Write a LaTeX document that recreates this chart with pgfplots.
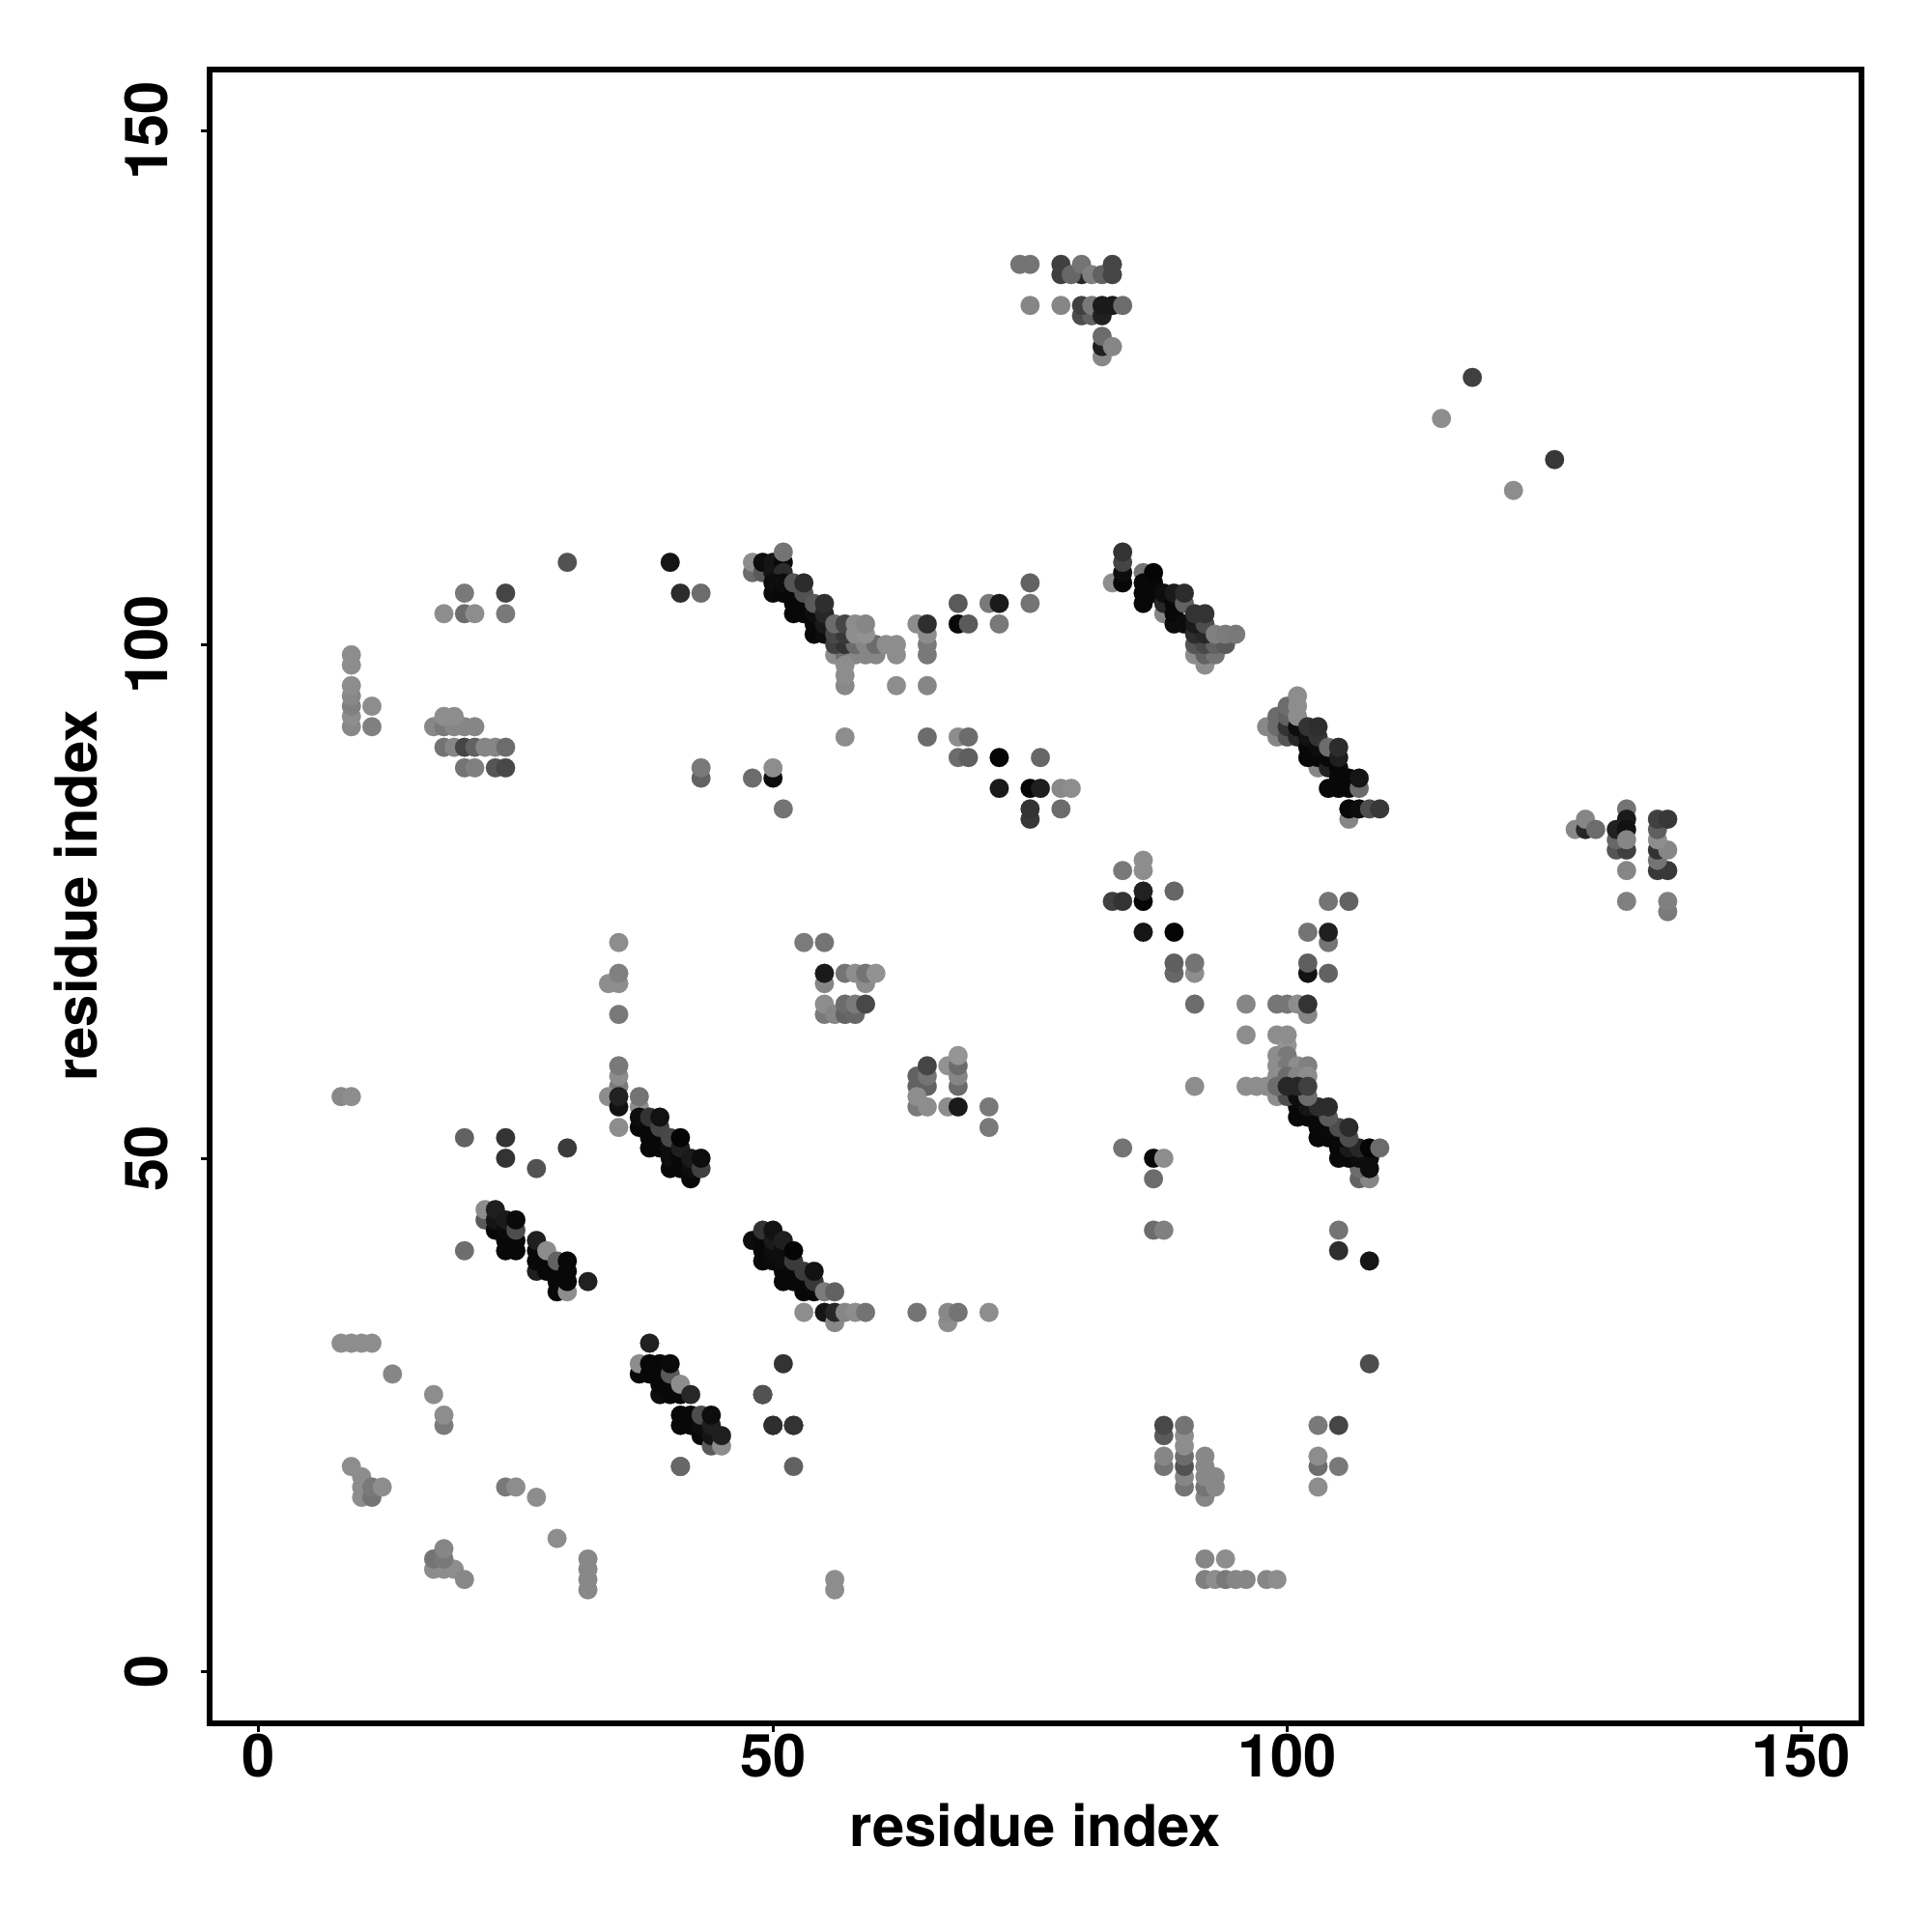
\documentclass[border=0pt]{standalone}
\usepackage{fontspec}
\setmainfont{TeX Gyre Heros}
\usepackage{pgfplots}
\pgfplotsset{compat=1.18}
\usepackage{pgfplotstable}
\pgfplotstableread[row sep=\\]{
x y g\\
8 32 .55\\ 9 32 .55\\ 10 32 .55\\ 11 32 .55\\ 13 29 .52\\ 17 27 .55\\ 18 24 .48\\ 18 25 .55\\
9 20 .55\\ 10 19 .55\\ 10 18 .55\\ 10 17 .55\\ 11 17 .45\\ 11 18 .47\\ 12 18 .55\\
24 18 .47\\ 25 18 .55\\ 27 17 .55\\ 29 13 .55\\ 32 8 .53\\ 32 9 .53\\ 32 10 .53\\ 32 11 .53\\
17 10 .55\\ 18 10 .55\\ 19 10 .55\\ 20 9 .53\\ 17 11 .45\\ 18 11 .47\\ 18 12 .52\\
20 41 .43\\ 41 20 .4\\ 27 49 .32\\ 24 50 .2\\ 24 52 .2\\ 20 52 .38\\ 30 51 .23\\
22 44 .35\\ 22 45 .55\\ 23 43 .03\\ 23 44 .08\\ 23 45 .12\\ 24 41 .03\\ 24 42 .03\\ 24 43 .04\\ 24 44 .1\\ 25 41 .03\\ 25 42 .03\\ 25 43 .3\\ 25 44 .04\\
27 39 .12\\ 27 40 .03\\ 27 41 .03\\ 27 42 .12\\ 28 39 .03\\ 28 40 .03\\ 28 41 .55\\ 29 37 .03\\ 29 38 .03\\ 29 39 .03\\ 29 40 .38\\ 30 37 .55\\ 30 38 .03\\ 30 39 .03\\ 30 40 .03\\ 32 38 .13\\
37 29 .03\\ 37 30 .55\\ 38 32 .13\\ 38 29 .03\\ 38 30 .03\\ 39 27 .05\\ 39 28 .03\\ 39 29 .03\\ 39 30 .03\\ 40 27 .03\\ 40 28 .03\\ 40 29 .35\\ 40 30 .04\\ 41 27 .03\\ 41 28 .55\\ 42 27 .15\\ 49 27 .3\\
41 24 .03\\ 41 25 .03\\ 42 24 .03\\ 42 25 .03\\ 43 23 .03\\ 43 24 .05\\ 43 25 .3\\ 44 22 .35\\ 44 23 .08\\ 44 24 .12\\ 44 25 .05\\ 45 22 .55\\ 45 23 .12\\ 50 24 .2\\ 52 24 .2\\ 41 20 .4\\
48 42 .05\\ 49 40 .03\\ 49 41 .03\\ 49 42 .03\\ 49 43 .2\\ 50 40 .04\\ 50 41 .05\\ 50 42 .1\\ 50 43 .07\\ 51 38 .03\\ 51 39 .03\\ 51 40 .05\\ 51 41 .05\\ 51 42 .12\\ 52 38 .03\\ 52 39 .03\\ 52 40 .23\\ 52 41 .02\\ 53 37 .03\\ 53 38 .03\\ 53 39 .23\\ 54 37 .03\\ 54 38 .22\\ 54 39 .07\\ 55 37 .48\\ 56 37 .38\\
53 35 .55\\ 55 35 .08\\ 56 34 .53\\ 56 35 .15\\ 57 35 .52\\ 58 35 .55\\ 59 35 .45\\ 64 35 .45\\ 67 34 .55\\ 67 35 .53\\ 68 35 .45\\ 71 35 .55\\
51 30 .2\\ 49 27 .32\\ 50 24 .18\\ 52 24 .2\\ 52 20 .38\\ 56 8 .55\\ 56 9 .55\\
87 48 .42\\ 87 50 .03\\ 88 50 .55\\ 87 43 .42\\ 88 43 .5\\
88 23 .35\\ 88 24 .28\\ 88 20 .45\\ 88 21 .52\\ 90 18 .45\\ 90 19 .52\\ 90 20 .32\\ 90 21 .42\\ 90 22 .55\\ 90 23 .55\\ 90 24 .45\\
92 17 .52\\ 92 18 .45\\ 92 19 .53\\ 92 20 .53\\ 92 21 .53\\ 93 18 .53\\ 93 19 .53\\
103 18 .55\\ 103 20 .43\\ 103 21 .55\\ 103 24 .47\\ 105 24 .27\\ 105 20 .47\\
92 11 .52\\ 94 11 .55\\ 92 9 .5\\ 93 9 .55\\ 94 9 .47\\ 95 9 .52\\ 96 9 .52\\ 98 9 .52\\ 99 9 .55\\
84 51 .45\\ 105 43 .45\\ 105 41 .18\\ 108 40 .08\\ 108 30 .3\\
107 48 .38\\ 108 48 .52\\ 107 49 .42\\ 105 50 .03\\ 106 50 .03\\ 107 50 .05\\ 108 49 .05\\ 108 50 .05\\ 105 51 .03\\ 106 51 .1\\ 107 51 .15\\ 108 51 .02\\ 109 51 .42\\
103 52 .03\\ 104 52 .03\\ 105 52 .03\\ 106 52 .3\\ 103 53 .03\\ 104 53 .04\\ 105 53 .3\\ 106 53 .17\\ 103 54 .03\\ 104 54 .35\\ 101 54 .03\\ 102 54 .03\\ 101 55 .03\\ 102 55 .08\\ 103 55 .17\\ 104 55 .17\\
84 78 .47\\ 86 78 .55\\ 86 79 .55\\ 86 75 .02\\ 86 76 .13\\ 89 76 .4\\ 83 75 .25\\ 84 75 .2\\ 86 72 .08\\ 89 72 .02\\
89 68 .4\\ 89 69 .37\\ 91 68 .55\\ 91 69 .45\\ 91 65 .42\\
96 65 .52\\ 99 65 .46\\ 100 65 .46\\ 101 65 .55\\ 102 64 .52\\ 102 65 .2\\
102 72 .45\\ 104 71 .45\\ 104 72 .12\\ 102 68 .07\\ 102 69 .37\\ 104 68 .38\\ 104 75 .45\\ 106 75 .38\\ 106 84 .55\\
96 62 .55\\ 99 62 .55\\ 100 61 .58\\ 100 62 .55\\ 99 60 .55\\ 100 60 .47\\ 99 59 .55\\ 100 59 .47\\ 101 59 .55\\ 102 59 .5\\ 99 58 .55\\ 100 58 .42\\ 101 58 .52\\ 102 58 .55\\ 99 56 .55\\ 100 56 .3\\ 101 56 .05\\ 102 56 .42\\ 91 57 .55\\ 96 57 .55\\ 97 57 .55\\ 98 57 .55\\ 99 57 .42\\ 100 57 .15\\ 101 57 .15\\ 102 57 .25\\
35 71 .55\\ 35 67 .55\\ 34 67 .55\\ 35 68 .5\\ 35 64 .47\\ 35 57 .48\\ 35 58 .55\\ 35 59 .47\\ 34 56 .55\\ 35 55 .07\\ 35 56 .13\\ 35 53 .55\\ 8 56 .53\\ 9 56 .55\\
37 55 .55\\ 37 56 .45\\ 37 53 .03\\ 37 54 .05\\ 38 51 .03\\ 38 52 .03\\ 38 53 .03\\ 38 54 .2\\ 39 51 .03\\ 39 52 .03\\ 39 53 .27\\ 39 54 .07\\ 40 49 .03\\ 40 50 .05\\ 40 51 .05\\ 40 52 .28\\ 41 49 .03\\ 41 50 .03\\ 41 51 .12\\ 41 52 .02\\ 42 48 .03\\ 42 49 .05\\ 42 50 .1\\ 43 49 .25\\ 43 50 .05\\
53 71 .48\\ 55 71 .45\\ 55 67 .52\\ 55 68 .1\\ 57 68 .45\\ 59 67 .55\\ 58 68 .55\\ 59 68 .45\\ 60 68 .57\\
55 64 .47\\ 55 65 .55\\ 56 64 .52\\ 57 64 .38\\ 57 65 .42\\ 58 64 .4\\ 58 65 .48\\ 59 65 .28\\
64 57 .38\\ 64 58 .38\\ 65 57 .38\\ 65 58 .45\\ 65 59 .27\\ 64 55 .47\\ 64 56 .55\\ 65 55 .55\\
67 59 .57\\ 68 57 .42\\ 68 58 .52\\ 68 59 .42\\ 68 60 .58\\ 67 55 .55\\ 68 55 .1\\ 71 55 .47\\ 71 53 .47\\
9 92 .53\\ 9 93 .55\\ 9 94 .5\\ 9 95 .53\\ 9 96 .55\\ 9 98 .55\\ 9 99 .55\\ 11 94 .55\\ 11 92 .5\\
17 92 .53\\ 18 92 .47\\ 19 92 .52\\ 20 92 .52\\ 21 92 .52\\ 18 93 .55\\ 19 93 .55\\
18 90 .45\\ 19 90 .52\\ 20 90 .27\\ 21 90 .38\\ 22 90 .52\\ 23 90 .52\\ 24 90 .42\\
20 88 .45\\ 21 88 .5\\ 23 88 .33\\ 24 88 .28\\
18 103 .55\\ 20 103 .42\\ 21 103 .55\\ 24 103 .47\\ 20 105 .47\\ 24 105 .27\\ 30 108 .32\\ 40 108 .08\\ 41 105 .17\\ 43 105 .42\\
43 87 .38\\ 43 88 .47\\ 48 87 .42\\ 50 87 .05\\ 50 88 .55\\ 51 84 .45\\
48 107 .42\\ 48 108 .55\\ 49 107 .35\\ 49 108 .05\\ 50 107 .08\\ 50 108 .08\\ 51 108 .04\\ 51 107 .17\\ 51 109 .45\\
50 105 .04\\ 50 106 .05\\ 51 105 .03\\ 51 106 .05\\ 52 103 .03\\ 52 104 .03\\ 52 105 .03\\ 52 106 .33\\ 53 103 .03\\ 53 104 .03\\ 53 105 .32\\ 53 106 .17\\
54 101 .03\\ 54 102 .03\\ 54 103 .05\\ 54 104 .35\\ 55 101 .05\\ 55 102 .1\\ 55 103 .15\\ 55 104 .18\\
56 99 .55\\ 57 99 .42\\ 58 99 .52\\ 59 99 .52\\ 60 99 .52\\ 62 99 .55\\ 56 100 .25\\ 57 100 .2\\ 58 100 .42\\ 59 100 .52\\ 60 100 .42\\ 61 100 .55\\ 62 100 .55\\
56 101 .28\\ 57 101 .22\\ 56 102 .42\\ 57 102 .27\\ 58 101 .55\\ 59 101 .57\\ 58 102 .55\\ 59 102 .52\\
57 96 .53\\ 57 97 .55\\ 57 98 .55\\ 62 96 .55\\ 65 96 .52\\ 64 102 .55\\ 65 99 .47\\ 65 100 .47\\ 65 101 .55\\ 65 102 .18\\
68 102 .03\\ 69 102 .35\\ 68 104 .35\\ 71 104 .47\\ 72 104 .1\\ 72 102 .47\\ 75 104 .45\\ 75 106 .38\\
57 91 .55\\ 65 91 .42\\ 68 91 .55\\ 69 91 .42\\ 68 89 .42\\ 69 89 .37\\ 72 89 .02\\ 76 89 .4\\
72 86 .1\\ 75 86 .02\\ 76 86 .12\\ 78 86 .53\\ 79 86 .55\\ 75 83 .22\\ 75 84 .2\\ 78 84 .42\\
83 106 .55\\ 84 106 .03\\ 84 107 .05\\ 84 108 .27\\ 84 109 .2\\
86 107 .45\\ 86 104 .03\\ 86 105 .03\\ 86 106 .03\\ 87 105 .03\\ 87 106 .03\\ 87 107 .02\\ 88 103 .52\\ 88 104 .15\\ 88 105 .05\\ 89 102 .05\\ 89 103 .03\\ 89 104 .03\\ 89 105 .1\\ 90 102 .05\\ 90 104 .38\\ 90 105 .17\\
92 98 .55\\ 91 99 .55\\ 92 99 .38\\ 93 99 .45\\ 91 100 .33\\ 92 100 .28\\ 93 100 .38\\ 94 100 .35\\ 91 101 .18\\ 92 101 .15\\ 91 102 .1\\ 92 102 .3\\ 91 103 .2\\ 92 103 .2\\ 93 101 .5\\ 94 101 .48\\ 95 101 .47\\
98 92 .53\\ 99 91 .52\\ 99 92 .42\\ 99 93 .42\\ 100 91 .33\\ 100 92 .2\\ 100 93 .38\\ 100 94 .42\\ 101 91 .15\\ 101 92 .05\\ 101 93 .55\\ 101 94 .55\\ 101 95 .55\\
103 88 .52\\ 102 89 .03\\ 102 90 .03\\ 102 91 .07\\ 102 92 .2\\ 103 89 .03\\ 103 90 .05\\ 103 91 .2\\ 103 92 .18\\ 104 88 .13\\ 104 89 .03\\ 104 90 .42\\ 105 87 .03\\ 105 88 .03\\ 105 89 .12\\ 105 90 .17\\
104 86 .03\\ 105 86 .03\\ 106 86 .03\\ 106 87 .03\\ 107 86 .42\\ 107 87 .08\\ 106 83 .52\\ 106 84 .03\\ 107 84 .05\\ 108 84 .3\\ 109 84 .22\\
128 82 .53\\ 129 82 .15\\ 129 83 .52\\ 130 82 .42\\
133 75 .5\\ 133 78 .52\\ 132 80 .33\\ 133 80 .25\\ 132 81 .4\\ 133 84 .45\\ 133 83 .1\\ 132 82 .13\\ 133 82 .07\\ 133 81 .52\\
137 74 .48\\ 137 75 .5\\ 136 78 .22\\ 137 78 .22\\ 136 79 .45\\ 136 80 .2\\ 137 80 .52\\ 136 81 .55\\ 136 82 .37\\ 136 83 .25\\ 137 83 .22\\
74 137 .45\\ 75 137 .45\\ 78 136 .25\\ 78 137 .25\\ 80 136 .15\\ 79 136 .4\\ 80 137 .45\\ 81 136 .5\\ 82 136 .38\\ 83 136 .27\\ 83 137 .27\\
75 133 .52\\ 78 133 .52\\ 80 132 .3\\ 81 132 .38\\ 80 133 .25\\ 81 133 .47\\ 82 132 .13\\ 82 133 .1\\ 83 133 .1\\ 84 133 .42\\
82 128 .53\\ 82 129 .12\\ 82 130 .42\\ 83 129 .52\\
118 126 .25\\ 115 122 .55\\ 126 118 .22\\ 122 115 .55\\
}\dotsdata
\begin{document}
\begin{tikzpicture}
\useasboundingbox (-2.167,-2.16) rectangle (17.833,17.84);
\begin{axis}[
  at={(0,0)},anchor=south west,scale only axis,
  width=17.106cm,height=17.124cm,
  xmin=-4.81,xmax=155.87,ymin=-5.0,ymax=156.0,
  axis line style={line width=1.7pt},
  xtick={0,50,100,150},ytick={0,50,100,150},
  xtick pos=bottom,ytick pos=left,tick align=outside,
  major tick length=0.9mm,
  tick style={line width=0.85pt,black},
  /pgf/number format/assume math mode=true,
  tick label style={font=\fontsize{17.5}{17.5}\selectfont\bfseries},
  xticklabel style={yshift=1mm},
  yticklabel style={rotate=90,anchor=south,yshift=2.1mm,xshift=0mm},
  xlabel={residue index},ylabel={residue index},
  label style={font=\fontsize{17}{17}\selectfont\bfseries},
  x label style={at={(axis description cs:0.5,-0.0615)},anchor=center},
  y label style={at={(axis description cs:-0.0805,0.5)},anchor=center},
  colormap={bw}{gray(0cm)=(0); gray(1cm)=(1)},
  point meta min=0,point meta max=1,
]
\addplot[scatter,only marks,mark=*,mark size=0.98mm,
  mark options={line width=0.05pt},
  scatter/use mapped color={draw=mapped color,fill=mapped color},
  point meta=explicit] table[x=x,y=y,meta=g] {\dotsdata};
\end{axis}
\end{tikzpicture}
\end{document}
